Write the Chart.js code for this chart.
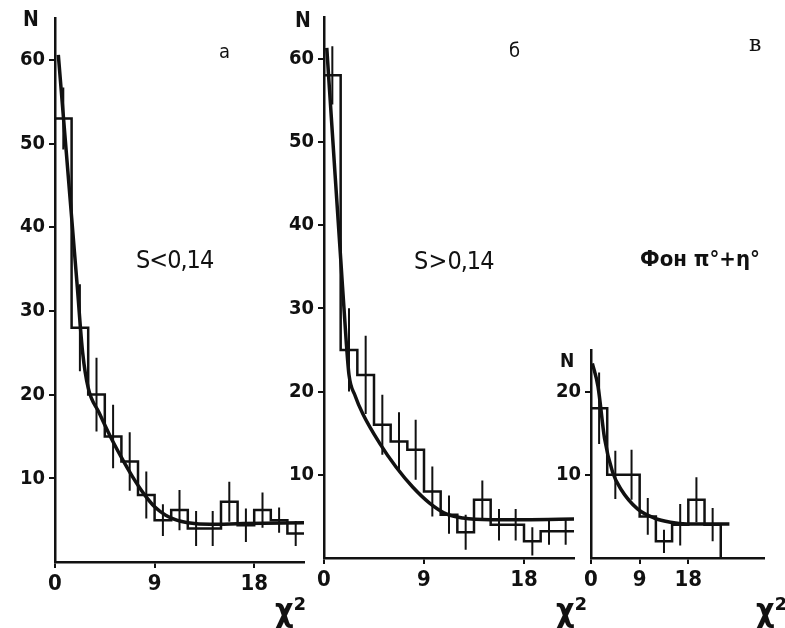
<!DOCTYPE html>
<html>
<head>
<meta charset="utf-8">
<script src="https://cdn.jsdelivr.net/npm/chart.js@4.4.1/dist/chart.umd.min.js"></script>
<style>
  body { margin: 0; background: #fff; }
  #wrap { position: relative; width: 785px; height: 628px; overflow: hidden;
          font-family: "DejaVu Sans Condensed", "DejaVu Sans", sans-serif; color: #111; }
  canvas { position: absolute; left: 0; top: 0; }
  .t { position: absolute; line-height: 1; white-space: nowrap; }
</style>
</head>
<body>
<div id="wrap">
  <canvas id="chartA" width="785" height="628"></canvas>
  <canvas id="chartB" width="785" height="628"></canvas>
  <canvas id="chartC" width="785" height="628"></canvas>

  <div class="t" style="left:23px;top:9px;font-size:21px;font-weight:bold">N</div>
  <div class="t" style="left:295px;top:10px;font-size:21px;font-weight:bold">N</div>
  <div class="t" style="left:560px;top:351px;font-size:19px;font-weight:bold">N</div>

  <div class="t" style="left:219px;top:41px;font-size:20px">а</div>
  <div class="t" style="left:509px;top:40px;font-size:20px">б</div>
  <div class="t" style="left:749px;top:33px;font-size:22px;font-family:'DejaVu Serif',serif">в</div>

  <div class="t" style="left:136px;top:247px;font-size:25px;letter-spacing:-1px">S&lt;0,14</div>
  <div class="t" style="left:414px;top:248px;font-size:25px;letter-spacing:-1px;word-spacing:-5px">S &gt; 0,14</div>
  <div class="t" style="left:640px;top:248px;font-size:22px;font-weight:bold">Фон π°+η°</div>

  <div class="t" style="left:275px;top:594px;font-size:32px;font-weight:bold">χ²</div>
  <div class="t" style="left:556px;top:594px;font-size:32px;font-weight:bold">χ²</div>
  <div class="t" style="left:756px;top:594px;font-size:32px;font-weight:bold">χ²</div>
</div>

<script>
// --- data ---
const edgesAB = [0, 1.5, 3, 4.5, 6, 7.5, 9, 10.5, 12, 13.5, 15, 16.5, 18, 19.5, 21, 22.5];
const edgesC = [0, 3, 6, 9, 12, 15, 18, 21, 24];

const countsA = [53, 28, 20, 15, 12, 8, 5, 6.2, 4, 4, 7.2, 4.4, 6.2, 5, 3.4];
const errorsA = [3.7, 5.2, 4.4, 3.8, 3.5, 2.8, 1.9, 2.4, 2.1, 2.1, 2.4, 2.0, 2.1, 1.5, 1.5];
const curveAX = [0.3, 1, 1.5, 2, 2.5, 3, 4, 5, 6, 7, 8, 9, 10, 11, 12, 14, 17, 22.5];
const curveAY = [60.6, 49.3, 41.2, 33.1, 25, 20.8, 17.8, 15, 12.5, 10.2, 8.2, 6.6, 5.6, 5.0, 4.7, 4.5, 4.6, 4.7];

const countsB = [58, 25, 22, 16, 14, 13, 8, 5.2, 3.1, 7, 4, 4, 2, 3.2, 3.2];
const errorsB = [3.5, 5, 4.7, 3.6, 3.5, 3.6, 3, 2.3, 2.1, 2.3, 1.9, 1.9, 1.7, 1.6, 1.6];
const curveBX = [0.25, 1, 1.5, 2, 2.25, 2.8, 3.5, 5, 6.5, 8, 9.5, 11, 12.5, 15, 18, 22.8];
const curveBY = [61.3, 46, 36, 26, 22, 19.5, 17.3, 13.8, 10.9, 8.5, 6.6, 5.3, 4.8, 4.6, 4.6, 4.7];

const countsC = [18, 10, 10, 5, 2, 4, 7, 4];
const errorsC = [4.3, 2.9, 3.0, 2.2, 1.4, 2.5, 2.7, 2.0];
const curveCX = [0.25, 1.3, 2.5, 4, 5.6, 8.6, 11.7, 14.7, 17.7, 25.6];
const curveCY = [23.4, 20.6, 14.4, 10.3, 8.2, 5.9, 4.8, 4.3, 4.1, 4.1];

const xTicksAB = [0, 9, 18];
const yTicksAB = [10, 20, 30, 40, 50, 60];
const xTicksC = [0, 9, 18];
const yTicksC = [10, 20];

const INK = '#111';
const FONT = '"DejaVu Sans Condensed", "DejaVu Sans", sans-serif';

// bin outline: one point per left edge, plus the closing right edge
function histPoints(edges, counts, dropToZero) {
  const pts = counts.map((c, i) => ({ x: edges[i], y: c }));
  const last = edges[counts.length];
  pts.push({ x: last, y: counts[counts.length - 1] });
  if (dropToZero) pts.push({ x: last, y: 0 });
  return pts;
}

// vertical bars at bin centres, broken apart by null points
function errorPoints(edges, counts, errs) {
  const pts = [];
  counts.forEach((c, i) => {
    const xc = (edges[i] + edges[i + 1]) / 2;
    pts.push({ x: xc, y: c - errs[i] }, { x: xc, y: c + errs[i] }, { x: xc, y: null });
  });
  return pts;
}

function makePanel(id, p) {
  new Chart(document.getElementById(id), {
    type: 'line',
    data: {
      datasets: [
        {
          data: histPoints(p.edges, p.counts, p.drop),
          stepped: 'before', borderColor: INK, borderWidth: 2.5,
          pointRadius: 0, fill: false
        },
        {
          data: errorPoints(p.edges, p.counts, p.errors),
          borderColor: INK, borderWidth: 2, pointRadius: 0, spanGaps: false, fill: false
        },
        {
          data: p.curveX.map((x, i) => ({ x: x, y: p.curveY[i] })),
          borderColor: INK, borderWidth: 3.5, pointRadius: 0,
          cubicInterpolationMode: 'monotone', fill: false
        }
      ]
    },
    options: {
      responsive: false,
      animation: false,
      events: [],
      layout: { padding: { left: p.padLeft, right: p.padRight, top: p.padTop, bottom: 0 } },
      plugins: { legend: { display: false }, tooltip: { enabled: false } },
      scales: {
        x: {
          type: 'linear', min: 0, max: p.xMax,
          afterBuildTicks: (s) => { s.ticks = p.xTicks.map(v => ({ value: v })); },
          afterFit: (s) => { s.height = p.xHeight; },
          grid: { drawOnChartArea: false, drawTicks: true, tickLength: 6, color: INK, lineWidth: 2 },
          border: { display: true, color: INK, width: 2.5 },
          ticks: { color: INK, padding: 3, maxRotation: 0, autoSkip: false,
                   font: { family: FONT, size: 22, weight: 'bold' } }
        },
        y: {
          type: 'linear', min: 0, max: p.yMax,
          afterBuildTicks: (s) => { s.ticks = p.yTicks.map(v => ({ value: v })); },
          afterFit: (s) => { s.width = p.yWidth; },
          grid: { drawOnChartArea: false, drawTicks: true, tickLength: 6, color: INK, lineWidth: 2 },
          border: { display: true, color: INK, width: 2.5 },
          ticks: { color: INK, padding: 4, autoSkip: false,
                   font: { family: FONT, size: 20, weight: 'bold' } }
        }
      }
    }
  });
}

makePanel('chartA', {
  edges: edgesAB, counts: countsA, errors: errorsA, drop: false,
  curveX: curveAX, curveY: curveAY,
  xTicks: xTicksAB, yTicks: yTicksAB, xMax: 22.5, yMax: 65,
  padLeft: 0, yWidth: 55, padRight: 481, padTop: 18, xHeight: 66
});

makePanel('chartB', {
  edges: edgesAB, counts: countsB, errors: errorsB, drop: false,
  curveX: curveBX, curveY: curveBY,
  xTicks: xTicksAB, yTicks: yTicksAB, xMax: 22.5, yMax: 65,
  padLeft: 270, yWidth: 54, padRight: 211, padTop: 17, xHeight: 70
});

makePanel('chartC', {
  edges: edgesC, counts: countsC, errors: errorsC, drop: true,
  curveX: curveCX, curveY: curveCY,
  xTicks: xTicksC, yTicks: yTicksC, xMax: 32, yMax: 25,
  padLeft: 540, yWidth: 51, padRight: 21, padTop: 350, xHeight: 70
});
</script>
</body>
</html>
